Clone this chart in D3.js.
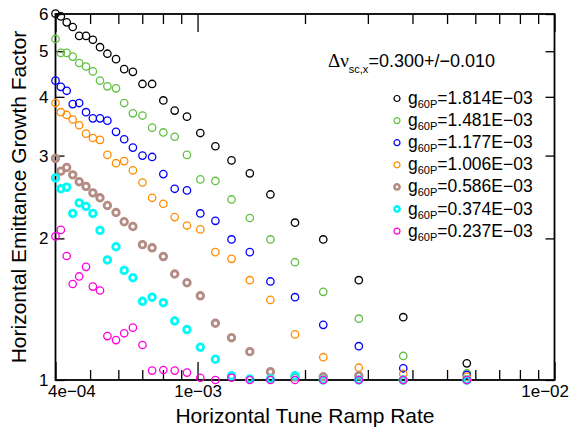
<!DOCTYPE html>
<html>
<head>
<meta charset="utf-8">
<script src="https://cdn.jsdelivr.net/npm/d3@7"></script>
<style>
  body { margin: 0; background: #fff; }
  svg { display: block; font-family: "Liberation Sans", Arial, sans-serif; }
</style>
</head>
<body>
<div id="chart"></div>
<script>
// horizontal tune ramp rate (x), shared by every series
var ramp_rates = [4.00e-4, 4.14e-4, 4.30e-4, 4.47e-4, 4.66e-4, 4.87e-4, 5.09e-4, 5.33e-4, 5.59e-4,
  5.91e-4, 6.23e-4, 6.59e-4, 7.01e-4, 7.46e-4, 8.02e-4, 8.63e-4, 9.34e-4, 1.018e-3, 1.122e-3,
  1.245e-3, 1.401e-3, 1.60e-3, 1.875e-3, 2.25e-3, 2.83e-3, 3.77e-3, 5.68e-3];

// emittance growth factor, one list per g60P
var growth_1814 = [6.01, 5.93, 5.76, 5.63, 5.39, 5.39, 5.29, 5.10, 4.94, 4.81, 4.58, 4.52, 4.26, 4.26,
  3.93, 3.74, 3.63, 3.35, 3.14, 2.93, 2.75, 2.48, 2.16, 1.99, 1.63, 1.36, 1.085];
var growth_1481 = [5.31, 4.96, 4.96, 4.87, 4.72, 4.64, 4.53, 4.33, 4.21, 4.17, 3.88, 3.69, 3.65, 3.44,
  3.36, 3.29, 3.01, 2.67, 2.65, 2.42, 2.21, 1.99, 1.78, 1.54, 1.35, 1.125, 1.033];
var growth_1177 = [4.33, 4.20, 4.12, 3.86, 3.88, 3.71, 3.60, 3.60, 3.56, 3.37, 3.25, 3.12, 3.00, 2.98,
  2.74, 2.55, 2.53, 2.26, 2.18, 1.99, 1.87, 1.62, 1.50, 1.31, 1.18, 1.059, 1.025];
var growth_1006 = [3.88, 3.71, 3.66, 3.58, 3.48, 3.34, 3.27, 3.24, 3.01, 2.89, 2.92, 2.79, 2.63, 2.44,
  2.37, 2.22, 2.13, 2.09, 1.87, 1.81, 1.63, 1.48, 1.25, 1.118, 1.062, 1.03, 1.016];
var growth_0586 = [2.96, 2.78, 2.83, 2.73, 2.64, 2.58, 2.50, 2.44, 2.35, 2.27, 2.17, 2.12, 1.94, 1.91,
  1.83, 1.68, 1.61, 1.51, 1.32, 1.23, 1.149, 1.041, 1.015, 1.016, 1.021, 1.0, 1.0];
var growth_0374 = [2.69, 2.55, 2.57, 2.26, 2.38, 2.34, 2.26, 2.08, 1.80, 1.92, 1.71, 1.65, 1.47, 1.50,
  1.46, 1.335, 1.28, 1.174, 1.107, 1.021, 1.005, 1.005, 1.021, 1.0, 1.0, 1.0, 1.0];
var growth_0237 = [2.02, 2.085, 1.835, 1.60, 1.66, 1.74, 1.58, 1.55, 1.24, 1.216, 1.257, 1.292, 1.187,
  1.047, 1.05, 1.047, 1.037, 1.011, 1.0, 1.011, 1.0, 1.0, 1.0, 1.0, 1.0, 1.0, 1.0];

var g60p_values = ["1.814", "1.481", "1.177", "1.006", "0.586", "0.374", "0.237"];
var x_tick_values = [4e-4, 1e-3, 1e-2];
var x_tick_labels = ["4e\u221204", "1e\u221203", "1e\u221202"];
var x_minor_ticks = [5e-4, 6e-4, 7e-4, 8e-4, 9e-4, 2e-3, 3e-3, 4e-3, 5e-3, 6e-3, 7e-3, 8e-3, 9e-3];
var y_tick_values = [1, 2, 3, 4, 5, 6];
var tune_spread = "0.300+/\u22120.010";

// styles
var series_colors = ["#000000", "#62c040", "#0000ff", "#ff8c00", "#b48b82", "#00f8f8", "#ff00dc"];
var series_bold = [false, false, false, false, true, true, false];

var all_growth = [growth_1814, growth_1481, growth_1177, growth_1006, growth_0586, growth_0374, growth_0237];

var W = 570, H = 430;
var plot_l = 55.5, plot_r = 554.5, plot_t = 14, plot_b = 380;

var svg = d3.select("#chart").append("svg")
    .attr("width", W)
    .attr("height", H);

var x = d3.scaleLog().domain([4e-4, 1e-2]).range([plot_l, plot_r]);
var y = d3.scaleLog().domain([1, 6]).range([plot_b, plot_t]);

function style_axis(g) {
  g.select(".domain").remove();
  g.selectAll(".tick line").attr("stroke", "#000").attr("stroke-width", 1.3);
  g.attr("font-family", null).attr("font-size", 17);
  g.selectAll("text").attr("fill", "#000");
}

// bottom axis: minor + major ticks, pointing inward
svg.append("g").attr("transform", "translate(0," + plot_b + ")")
    .call(d3.axisBottom(x).tickValues(x_minor_ticks).tickSize(-10).tickFormat(""))
    .call(style_axis);

var xb = svg.append("g").attr("transform", "translate(0," + plot_b + ")")
    .call(d3.axisBottom(x).tickValues(x_tick_values).tickSize(-18).tickPadding(5)
      .tickFormat(function(d, i) { return x_tick_labels[i]; }))
    .call(style_axis);
var xlabels = xb.selectAll(".tick text");
xlabels.filter(function(d, i) { return i == 0; }).attr("text-anchor", "start").attr("x", -8);
xlabels.filter(function(d, i) { return i == x_tick_values.length - 1; }).attr("text-anchor", "end").attr("x", 14);

// top axis mirrors the bottom one
svg.append("g").attr("transform", "translate(0," + plot_t + ")")
    .call(d3.axisTop(x).tickValues(x_minor_ticks).tickSize(-10).tickFormat(""))
    .call(style_axis);
svg.append("g").attr("transform", "translate(0," + plot_t + ")")
    .call(d3.axisTop(x).tickValues(x_tick_values).tickSize(-18).tickFormat(""))
    .call(style_axis);

// left and right axes
svg.append("g").attr("transform", "translate(" + plot_l + ",0)")
    .call(d3.axisLeft(y).tickValues(y_tick_values).tickSize(-9).tickPadding(7).tickFormat(d3.format("d")))
    .call(style_axis);
svg.append("g").attr("transform", "translate(" + plot_r + ",0)")
    .call(d3.axisRight(y).tickValues(y_tick_values).tickSize(-9).tickFormat(""))
    .call(style_axis);

// frame
svg.append("rect")
    .attr("x", plot_l).attr("y", plot_t)
    .attr("width", plot_r - plot_l).attr("height", plot_b - plot_t)
    .attr("fill", "none").attr("stroke", "#000").attr("stroke-width", 1.8);

// axis titles
svg.append("text")
    .attr("x", (plot_l + plot_r) / 2).attr("y", 423)
    .attr("text-anchor", "middle").attr("font-size", 21)
    .text("Horizontal Tune Ramp Rate");

svg.append("text")
    .attr("transform", "translate(26," + (plot_t + plot_b) / 2 + ") rotate(-90)")
    .attr("text-anchor", "middle").attr("font-size", 21)
    .text("Horizontal Emittance Growth Factor");

// data points
all_growth.forEach(function(vals, i) {
  svg.append("g").selectAll("circle")
      .data(vals.map(function(v, j) { return [ramp_rates[j], v]; }))
    .enter().append("circle")
      .attr("cx", function(d) { return x(d[0]); })
      .attr("cy", function(d) { return y(d[1]); })
      .attr("r", series_bold[i] ? 3.3 : 3.7)
      .attr("fill", "none")
      .attr("stroke", series_colors[i])
      .attr("stroke-width", series_bold[i] ? 2.8 : 1.3);
});

// tune spread annotation
var ann = svg.append("text").attr("x", 328).attr("y", 67);
ann.append("tspan").attr("font-family", "'Liberation Serif', 'Times New Roman', serif")
    .attr("font-size", 19).text("\u0394\u03bd");
ann.append("tspan").attr("font-size", 11).attr("dy", 6).text("sc,x");
ann.append("tspan").attr("font-size", 18).attr("dy", -6).text("=" + tune_spread);

// legend
var legend = svg.append("g").selectAll("g")
    .data(g60p_values)
  .enter().append("g")
    .attr("transform", function(d, i) { return "translate(397," + (98.5 + i * 22.1) + ")"; });

legend.append("circle")
    .attr("r", function(d, i) { return series_bold[i] ? 2.6 : 3; })
    .attr("fill", "none")
    .attr("stroke", function(d, i) { return series_colors[i]; })
    .attr("stroke-width", function(d, i) { return series_bold[i] ? 2.6 : 1.2; });

var lt = legend.append("text").attr("x", 11).attr("y", 5.5).attr("font-size", 17.5);
lt.append("tspan").text("g");
lt.append("tspan").attr("font-size", 11).attr("dy", 4).text("60P");
lt.append("tspan").attr("dy", -4).text(function(d) { return "=" + d + "E\u221203"; });
</script>
</body>
</html>
